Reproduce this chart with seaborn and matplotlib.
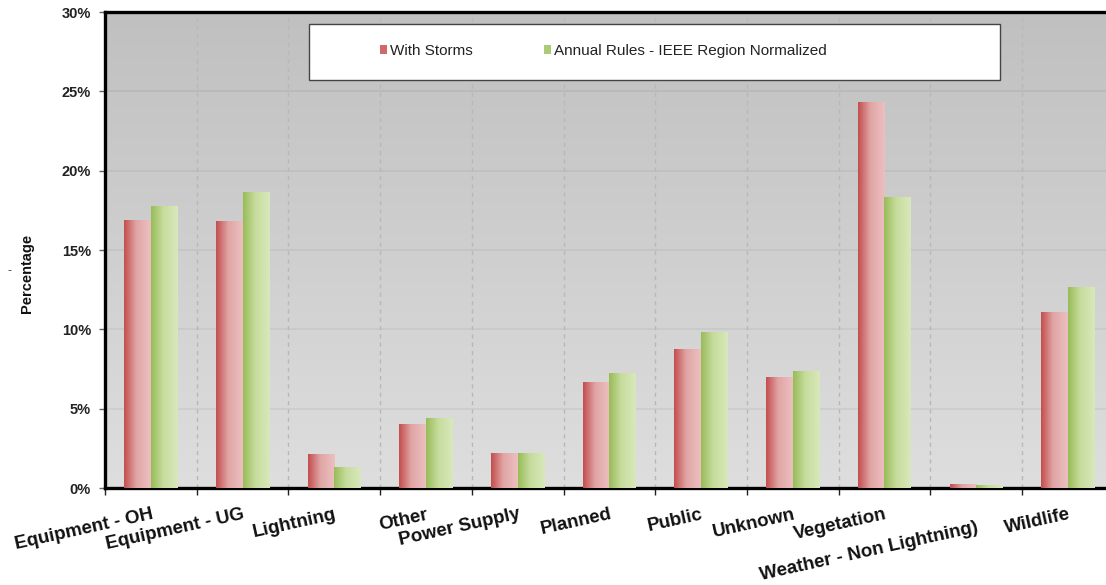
import numpy as np
import pandas as pd
import matplotlib
matplotlib.use("Agg")
import matplotlib.pyplot as plt
import seaborn as sns
from matplotlib.colors import LinearSegmentedColormap
from matplotlib.patches import Rectangle, Patch
from matplotlib.transforms import ScaledTranslation

# Outage causes and their share of customer interruptions (%)
causes = ["Equipment - OH", "Equipment - UG", "Lightning", "Other", "Power Supply",
          "Planned", "Public", "Unknown", "Vegetation", "Weather - Non Lightning)",
          "Wildlife"]
with_storms = [16.9, 16.8, 2.15, 4.03, 2.23, 6.68, 8.74, 6.98, 24.3, 0.24, 11.11]
annual_rules = [17.75, 18.67, 1.30, 4.39, 2.23, 7.25, 9.81, 7.35, 18.36, 0.19, 12.67]
series_names = ["With Storms", "Annual Rules - IEEE Region Normalized"]
y_ticks = [0, 5, 10, 15, 20, 25, 30]

df = pd.DataFrame({
    "cause": causes * 2,
    "series": [series_names[0]] * len(causes) + [series_names[1]] * len(causes),
    "value": with_storms + annual_rules,
})

sns.set_theme(style="white")
plt.rcParams["font.family"] = ["Liberation Sans", "DejaVu Sans"]

W, H = 1106, 585
fig = plt.figure(figsize=(W / 100, H / 100), dpi=100)
left_px, right_px, top_px, bottom_px = 105, 1113.7, 12, 488
ax = fig.add_axes([left_px / W, (H - bottom_px) / H,
                   (right_px - left_px) / W, (bottom_px - top_px) / H])

red_mid = "#d27070"
green_mid = "#b0cc80"
sns.barplot(data=df, x="cause", y="value", hue="series", order=causes,
            hue_order=series_names, palette=[red_mid, green_mid],
            width=0.58, gap=0, legend=False, ax=ax, zorder=3,
            edgecolor="none", linewidth=0)

# grey vertical gradient behind the plot
bg = LinearSegmentedColormap.from_list("bg", ["#c0c0c0", "#dedede"])
ax.imshow(np.linspace(0, 1, 256)[:, None], cmap=bg, extent=[0, 1, 0, 1],
          transform=ax.transAxes, aspect="auto", zorder=0, interpolation="bilinear")

# horizontal gradient fills on each bar
red_cmap = LinearSegmentedColormap.from_list(
    "r", [(0, "#c44e4e"), (0.45, "#e0a4a4"), (1, "#ecc0c0")])
green_cmap = LinearSegmentedColormap.from_list(
    "g", [(0, "#98bc58"), (0.45, "#c6dc9c"), (1, "#d8e8bc")])
grad = np.linspace(0, 1, 64)[None, :]
for cont, cmap in zip(ax.containers, [red_cmap, green_cmap]):
    for bar in cont:
        x, y = bar.get_x(), bar.get_y()
        w, h = bar.get_width(), bar.get_height()
        im = ax.imshow(grad, cmap=cmap, extent=[x, x + w, y, y + h],
                       aspect="auto", zorder=3.5, interpolation="bilinear")
        im.set_clip_path(bar)

ax.set_xlim(-0.5, len(causes) - 0.5)
ax.set_ylim(0, 30)

# grid: faint horizontal lines, dashed category separators
for v in y_ticks[1:-1]:
    ax.axhline(v, color="black", alpha=0.05, lw=1.3, zorder=1)
for b in np.arange(0.5, len(causes) - 0.5, 1):
    ax.axvline(b, color="#b8b8b8", lw=1.0, ls=(0, (3, 3)), zorder=1)

# spines
for s in ["left", "bottom", "top"]:
    ax.spines[s].set_linewidth(2.4)
    ax.spines[s].set_color("black")
ax.spines["right"].set_visible(False)

# ticks
ax.set_yticks(y_ticks)
ax.set_yticklabels([f"{t}%" for t in y_ticks], fontsize=10.5, fontweight="bold",
                   color="#222222")
ax.tick_params(axis="y", which="major", direction="out", length=4, width=1,
               color="#666666", left=True, pad=6)
ax.set_xticks(range(len(causes)))
ax.set_xticklabels(causes, rotation=12.5, ha="right", rotation_mode="anchor",
                   fontsize=13.5, fontweight="bold", color="#111111")
ax.tick_params(axis="x", which="major", length=0, pad=13)
ax.set_xticks(np.arange(-0.5, len(causes), 1), minor=True)
ax.tick_params(axis="x", which="minor", direction="out", length=5, width=1,
               color="#222222", bottom=True)

# the long weather label sits a little lower to clear its neighbour
for tick in ax.xaxis.get_major_ticks():
    if tick.label1.get_text().startswith("Weather"):
        tick.label1.set_transform(tick.label1.get_transform()
                                  + ScaledTranslation(0, -0.13, fig.dpi_scale_trans))

ax.set_xlabel("")
ax.set_ylabel("Percentage", fontsize=10.5, fontweight="bold", color="#111111")
ax.yaxis.set_label_coords(-71 / (right_px - left_px), 0.45)
fig.text(9 / W, 1 - 271 / H, "-", fontsize=9, color="#444444",
         ha="center", va="center")

# legend inside a white box
box = Rectangle((309 / W, 1 - 80 / H), 691 / W, 56 / H, transform=fig.transFigure,
                facecolor="white", edgecolor="#444444", lw=1.0, zorder=10)
fig.patches.append(box)
handles = [Patch(facecolor="#d06a6a", edgecolor="none"),
           Patch(facecolor="#acca78", edgecolor="none")]
leg = fig.legend(handles, series_names, loc="center left",
                 bbox_to_anchor=(380 / W, 1 - 51 / H), ncol=2, frameon=False,
                 fontsize=11, handlelength=0.45, handleheight=0.55,
                 handletextpad=0.2, columnspacing=4.7, borderaxespad=0,
                 borderpad=0)
leg.set_zorder(11)
for t in leg.get_texts():
    t.set_color("#222222")

fig.savefig("out.png", dpi=100)
